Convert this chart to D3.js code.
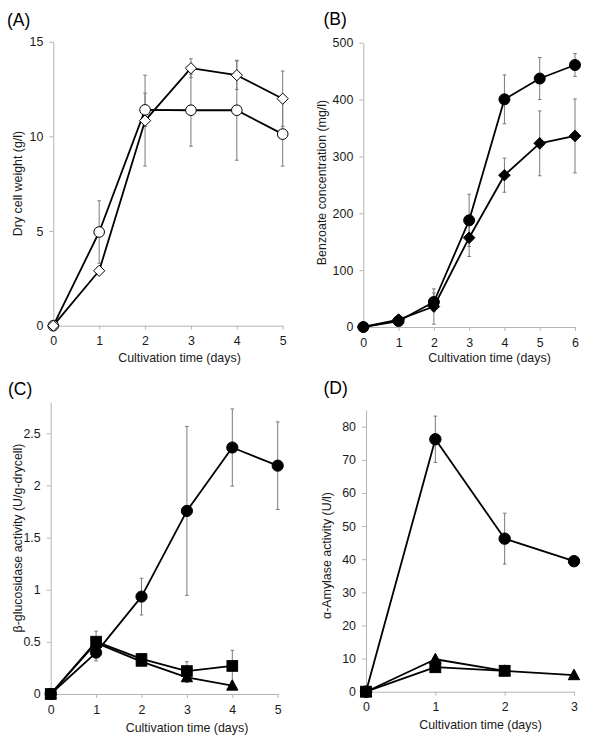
<!DOCTYPE html>
<html><head><meta charset="utf-8">
<script src="https://cdn.jsdelivr.net/npm/d3@7"></script>
<style>body{margin:0;background:#fff}svg{display:block}</style>
</head><body>
<svg id="chart" width="600" height="744"></svg>
<script>
// ---------- DATA ----------
// (A) Dry cell weight (g/l)
const daysA = [0, 1, 2, 3, 4, 5];
const dcwCircle = [0, 4.95, 11.4, 11.38, 11.38, 10.12];
const dcwCircleErr = [0, 1.65, 0.88, 1.9, 2.64, 1.69];
const dcwDiamond = [0, 2.9, 10.83, 13.6, 13.23, 11.99];
const dcwDiamondErr = [0, 0, 2.4, 0.5, 0.75, 1.46];
const ticksAx = [0, 1, 2, 3, 4, 5];
const ticksAy = [0, 5, 10, 15];

// (B) Benzoate concentration (mg/l)
const daysB = [0, 1, 2, 3, 4, 5, 6];
const benzCircle = [0, 10.5, 44, 187.6, 400.4, 437, 460.8];
const benzCircleErr = [0, 3, 16, 46, 43, 37, 20];
const benzDiamond = [0, 13, 36, 157, 267, 323, 336];
const benzDiamondErr = [0, 3, 31, 33, 30, 57, 65];
const ticksBx = [0, 1, 2, 3, 4, 5, 6];
const ticksBy = [0, 100, 200, 300, 400, 500];

// (C) beta-glucosidase activity (U/g-drycell)
const daysC = [0, 1, 2, 3, 4, 5];
const glucCircle = [0, 0.397, 0.934, 1.756, 2.364, 2.19];
const glucCircleErr = [0, 0.08, 0.176, 0.81, 0.37, 0.42];
const daysC2 = [0, 1, 2, 3, 4];
const glucTriangle = [0, 0.49, 0.31, 0.16, 0.08];
const glucTriangleErr = [0, 0.05, 0.02, 0.05, 0];
const glucSquare = [0, 0.502, 0.336, 0.22, 0.269];
const glucSquareErr = [0, 0.1, 0.03, 0.09, 0.15];
const ticksCx = [0, 1, 2, 3, 4, 5];
const ticksCy = [0, 0.5, 1, 1.5, 2, 2.5];

// (D) alpha-Amylase activity (U/l)
const daysD = [0, 1, 2, 3];
const amyCircle = [0, 76.2, 46.2, 39.4];
const amyCircleErr = [0, 7, 7.7, 0.5];
const amyTriangle = [0, 9.8, 6.3, 5.0];
const amyTriangleErr = [0, 0, 0, 0];
const daysD2 = [0, 1, 2];
const amySquare = [0, 7.4, 6.3];
const amySquareErr = [0, 0, 0];
const ticksDx = [0, 1, 2, 3];
const ticksDy = [0, 10, 20, 30, 40, 50, 60, 70, 80];

const xTitleText = "Cultivation time (days)";

// ---------- DRAWING ----------
const FONT = "'Liberation Sans', Arial, Helvetica, sans-serif";
const svg = d3.select("#chart");
const AXIS_COLOR = "#b4b4b4";
const ERR_COLOR = "#7a7a7a";

function drawPanel(cfg) {
  const g = svg.append("g");
  const x = d3.scaleLinear().domain(cfg.xDomain).range(cfg.xRange);
  const y = d3.scaleLinear().domain(cfg.yDomain).range(cfg.yRange);

  // axes
  const xAxis = d3.axisBottom(x).tickValues(cfg.xTicks).tickSize(4).tickSizeOuter(0).tickPadding(6.8)
    .tickFormat(d3.format("d"));
  const yAxis = d3.axisLeft(y).tickValues(cfg.yTicks).tickSize(4).tickSizeOuter(0).tickPadding(6)
    .tickFormat(d => String(d));
  const gx = g.append("g").attr("transform", `translate(0,${y(0)})`).call(xAxis);
  const gy = g.append("g").attr("transform", `translate(${x(0)},0)`).call(yAxis);
  [gx, gy].forEach(a => {
    a.select(".domain").attr("stroke", AXIS_COLOR).attr("stroke-width", 1);
    a.selectAll(".tick line").attr("stroke", AXIS_COLOR);
    a.selectAll(".tick text").attr("fill", "#1a1a1a").style("font-family", FONT).style("font-size", "12.4px");
  });

  // error bars
  cfg.series.forEach(s => {
    s.pts.filter(p => p.e > 0).forEach(p => {
      const xp = x(p.x), yt = y(p.y + p.e), yb = y(p.y - p.e);
      g.append("line").attr("x1", xp).attr("x2", xp).attr("y1", yt).attr("y2", yb)
        .attr("stroke", ERR_COLOR).attr("stroke-width", 1);
      [yt, yb].forEach(yy => g.append("line").attr("x1", xp - 1.8).attr("x2", xp + 1.8)
        .attr("y1", yy).attr("y2", yy).attr("stroke", ERR_COLOR).attr("stroke-width", 1));
    });
  });

  // lines
  const line = d3.line().x(p => x(p.x)).y(p => y(p.y));
  cfg.series.forEach(s => {
    g.append("path").attr("d", line(s.pts)).attr("fill", "none")
      .attr("stroke", "#000").attr("stroke-width", 1.8).attr("stroke-linejoin", "round");
  });

  // markers
  cfg.series.forEach(s => {
    s.pts.forEach(p => {
      const cx = x(p.x), cy = y(p.y);
      const r = cfg.r;
      let el;
      if (s.shape === "circle") {
        el = g.append("circle").attr("cx", cx).attr("cy", cy).attr("r", r);
      } else if (s.shape === "diamond") {
        const h = r + 0.3;
        el = g.append("path").attr("d", `M${cx},${cy - h}L${cx + h},${cy}L${cx},${cy + h}L${cx - h},${cy}Z`);
      } else if (s.shape === "square") {
        const h = r * 0.95;
        el = g.append("rect").attr("x", cx - h).attr("y", cy - h).attr("width", 2 * h).attr("height", 2 * h);
      } else if (s.shape === "triangle") {
        const w = r * 1.0, top = r * 1.05, bot = r * 0.8;
        el = g.append("path").attr("d", `M${cx},${cy - top}L${cx + w},${cy + bot}L${cx - w},${cy + bot}Z`);
      }
      el.attr("fill", s.fill).attr("stroke", "#000").attr("stroke-width", 1);
    });
  });

  // titles
  g.append("text").attr("x", cfg.label[1]).attr("y", cfg.label[2]).text(cfg.label[0])
    .style("font-family", FONT).style("font-size", "17.5px").attr("fill", "#000");
  g.append("text").attr("x", cfg.xTitlePos[0]).attr("y", cfg.xTitlePos[1]).attr("text-anchor", "middle")
    .text(xTitleText).style("font-family", FONT).style("font-size", "12.4px").attr("fill", "#1a1a1a");
  g.append("text").attr("transform", `translate(${cfg.yTitlePos[0]},${cfg.yTitlePos[1]}) rotate(-90)`)
    .attr("text-anchor", "middle").attr("dy", "0.35em")
    .text(cfg.yTitle).style("font-family", FONT).style("font-size", "12.4px").attr("fill", "#1a1a1a");
}

function series(xs, ys, es, shape, fill) {
  return {pts: xs.map((d, i) => ({x: d, y: ys[i], e: es[i]})), shape, fill};
}

drawPanel({
  label: ["(A)", 7, 26],
  xDomain: [0, 5], xRange: [53.3, 282.7],
  yDomain: [0, 15], yRange: [325.7, 41.7],
  xTicks: ticksAx, yTicks: ticksAy, r: 5.3,
  xTitlePos: [179.5, 361.5], yTitlePos: [18, 183.5],
  yTitle: "Dry cell weight (g/l)",
  series: [
    series(daysA, dcwCircle, dcwCircleErr, "circle", "#fff"),
    series(daysA, dcwDiamond, dcwDiamondErr, "diamond", "#fff")
  ]
});

drawPanel({
  label: ["(B)", 323.5, 25],
  xDomain: [0, 6], xRange: [363.3, 575],
  yDomain: [0, 500], yRange: [327, 42.7],
  xTicks: ticksBx, yTicks: ticksBy, r: 5.5,
  xTitlePos: [489.5, 361.5], yTitlePos: [321.5, 182.5],
  yTitle: "Benzoate concentration (mg/l)",
  series: [
    series(daysB, benzDiamond, benzDiamondErr, "diamond", "#000"),
    series(daysB, benzCircle, benzCircleErr, "circle", "#000")
  ]
});

drawPanel({
  label: ["(C)", 8, 395],
  xDomain: [0, 5], xRange: [50.7, 277.7],
  yDomain: [0, 2.8], yRange: [694, 694 - 2.8 * 104.27],
  xTicks: ticksCx, yTicks: ticksCy, r: 5.6,
  xTitlePos: [187, 732], yTitlePos: [17.5, 538],
  yTitle: "β-glucosidase activity (U/g-drycell)",
  series: [
    series(daysC, glucCircle, glucCircleErr, "circle", "#000"),
    series(daysC2, glucTriangle, glucTriangleErr, "triangle", "#000"),
    series(daysC2, glucSquare, glucSquareErr, "square", "#000")
  ]
});

drawPanel({
  label: ["(D)", 323.5, 394],
  xDomain: [0, 3], xRange: [366, 574],
  yDomain: [0, 85], yRange: [691.7, 691.7 - 85 * 3.3125],
  xTicks: ticksDx, yTicks: ticksDy, r: 5.7,
  xTitlePos: [480.5, 729.3], yTitlePos: [327, 555.5],
  yTitle: "α-Amylase activity (U/l)",
  series: [
    series(daysD, amyCircle, amyCircleErr, "circle", "#000"),
    series(daysD, amyTriangle, amyTriangleErr, "triangle", "#000"),
    series(daysD2, amySquare, amySquareErr, "square", "#000")
  ]
});
</script>
</body></html>
